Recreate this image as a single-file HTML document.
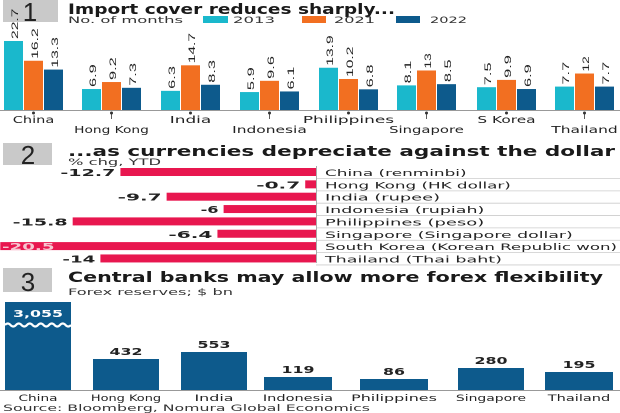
<!DOCTYPE html>
<html><head><meta charset="utf-8"><style>
html,body{margin:0;padding:0;background:#fff;}
svg{display:block;font-family:"DejaVu Sans","Liberation Sans",sans-serif;}
.t{font-weight:bold;font-size:14px;fill:#1a1a1a;}
.s{font-size:9px;fill:#333;}
.c{font-size:9.5px;fill:#222;}
</style></head><body>
<svg id="svg" width="620" height="413" viewBox="0 0 620 413">
<rect x="3" y="0" width="55" height="22" fill="#c9c9c9"/>
<text x="30" y="21" text-anchor="middle" font-size="26" fill="#222" style="font-family:'Liberation Sans'">1</text>
<text x="68" y="14" class="t" textLength="327" lengthAdjust="spacingAndGlyphs">Import cover reduces sharply...</text>
<text x="68" y="23" class="s" textLength="115" lengthAdjust="spacingAndGlyphs">No. of months</text>
<rect x="203" y="16" width="25" height="7" fill="#1ab8cc"/><text x="233" y="23" class="s" textLength="42" lengthAdjust="spacingAndGlyphs">2013</text>
<rect x="302" y="16" width="24" height="7" fill="#f26f21"/><text x="334" y="23" class="s" textLength="41" lengthAdjust="spacingAndGlyphs">2021</text>
<rect x="396" y="16" width="24" height="7" fill="#0d5a8c"/><text x="430" y="23" class="s" textLength="37" lengthAdjust="spacingAndGlyphs">2022</text>
<g id="s1"></g>
<line x1="0" y1="110.5" x2="620" y2="110.5" stroke="#999" stroke-width="1"/>
<rect x="3" y="143" width="49" height="22" fill="#c9c9c9"/>
<text x="28" y="164" text-anchor="middle" font-size="26" fill="#222" style="font-family:'Liberation Sans'">2</text>
<text x="68" y="156" class="t" textLength="547" lengthAdjust="spacingAndGlyphs">...as currencies depreciate against the dollar</text>
<text x="68" y="165" class="s" style="font-size:8.5px" textLength="93" lengthAdjust="spacingAndGlyphs">% chg, YTD</text>
<g id="s2"></g>
<line x1="316.5" y1="166" x2="316.5" y2="263" stroke="#aaa"/>
<rect x="3" y="268" width="49" height="24" fill="#c9c9c9"/>
<text x="28" y="291" text-anchor="middle" font-size="26" fill="#222" style="font-family:'Liberation Sans'">3</text>
<text x="68" y="282" class="t" textLength="535" lengthAdjust="spacingAndGlyphs">Central banks may allow more forex flexibility</text>
<text x="68" y="295" class="s" textLength="165" lengthAdjust="spacingAndGlyphs">Forex reserves; $ bn</text>
<g id="s3"></g>
<line x1="0" y1="390.5" x2="620" y2="390.5" stroke="#999"/>
<text x="3" y="411" class="s" textLength="367" lengthAdjust="spacingAndGlyphs">Source: Bloomberg, Nomura Global Economics</text>
</svg>
<script>
var NS="http://www.w3.org/2000/svg";
function el(p,t,a,txt){var e=document.createElementNS(NS,t);for(var k in a)e.setAttribute(k,a[k]);if(txt!=null)e.textContent=txt;p.appendChild(e);return e;}
function tx(p,x,y,s,k,anchor,cls,style){return el(p,"text",{x:x,y:y,"text-anchor":anchor||"start","class":cls||"c",style:style||"",textLength:s.length*k,lengthAdjust:"spacingAndGlyphs"},s);}
var g1=document.getElementById("s1");
var d=[["China",22.7,16.2,13.3],["Hong Kong",6.9,9.2,7.3],["India",6.3,14.7,8.3],["Indonesia",5.9,9.6,6.1],["Philippines",13.9,10.2,6.8],["Singapore",8.1,13,8.5],["S Korea",7.5,9.9,6.9],["Thailand",7.7,12,7.7]];
var starts=[4,82,161,240,319,397,477,555],cols=["#1ab8cc","#f26f21","#0d5a8c"];
d.forEach(function(r,i){
 for(var j=0;j<3;j++){var x=starts[i]+j*20,h=r[j+1]*3.04,y=110-h;
  el(g1,"rect",{x:x,y:y,width:19,height:h,fill:cols[j]});
  var s=String(r[j+1]);
  el(g1,"text",{x:0,y:0,"font-size":"12",fill:"#222",style:"font-family:'Liberation Sans'",textLength:s.length*7.6,lengthAdjust:"spacingAndGlyphs",transform:"translate("+(x+14)+","+(y-2)+") rotate(-90) scale(1,0.8)"},s);}
 var cx=starts[i]+29.5,low=i%2==1;
 el(g1,"circle",{cx:cx,cy:113,r:1.5,fill:"#333"});
 if(low)el(g1,"line",{x1:cx,y1:113,x2:cx,y2:119,stroke:"#333","stroke-width":0.8});
 tx(g1,cx,low?133:123,r[0],8.3,"middle");
});
var g2=document.getElementById("s2");
var d2=[["China (renminbi)",-12.7],["Hong Kong (HK dollar)",-0.7],["India (rupee)",-9.7],["Indonesia (rupiah)",-6],["Philippines (peso)",-15.8],["Singapore (Singapore dollar)",-6.4],["South Korea (Korean Republic won)",-20.5],["Thailand (Thai baht)",-14]];
d2.forEach(function(r,i){var y=168+i*12.35,w=-r[1]*15.4,x=316-w;
 el(g2,"rect",{x:x,y:y,width:w,height:8,fill:"#e8174f"});
 el(g2,"line",{x1:316,y1:y+10.5,x2:620,y2:y+10.5,stroke:"#ccc","stroke-width":0.8});
 tx(g2,325,y+8,r[0],8.85,"start","c","font-size:9px");
 var s=String(r[1]);
 if(r[1]==-20.5)tx(g2,2,y+8,s,10.5,"start","c","font-weight:bold;fill:#f6c6d0");
 else tx(g2,x-5,y+8,s,s.length<3?9:11,"end","c","font-weight:bold");
});
var g3=document.getElementById("s3");
var d3=[["China",5,71,302,"3,055"],["Hong Kong",93,159,359,"432"],["India",181,247,352,"553"],["Indonesia",264,332,377,"119"],["Philippines",360,428,379,"86"],["Singapore",458,524,368,"280"],["Thailand",545,613,372,"195"]];
d3.forEach(function(r,i){
 el(g3,"rect",{x:r[1],y:r[3],width:r[2]-r[1],height:390-r[3],fill:"#0d5a8c"});
 var cx=(r[1]+r[2])/2;
 if(i==0){tx(g3,cx,317,r[4],10,"middle","c","font-weight:bold;fill:#fff");
  var p="M"+r[1]+" 325";for(var k=0;k<6;k++){var a=r[1]+k*11;p+=" Q"+(a+2.75)+" 322 "+(a+5.5)+" 325 Q"+(a+8.25)+" 328 "+(a+11)+" 325";}
  el(g3,"path",{d:p,stroke:"#fff","stroke-width":2.2,fill:"none"});}
 else tx(g3,cx,r[3]-4,r[4],11,"middle","c","font-weight:bold");
 tx(g3,cx,401,r[0],7.8,"middle","c","font-size:9px");
});
</script>
</body></html>
